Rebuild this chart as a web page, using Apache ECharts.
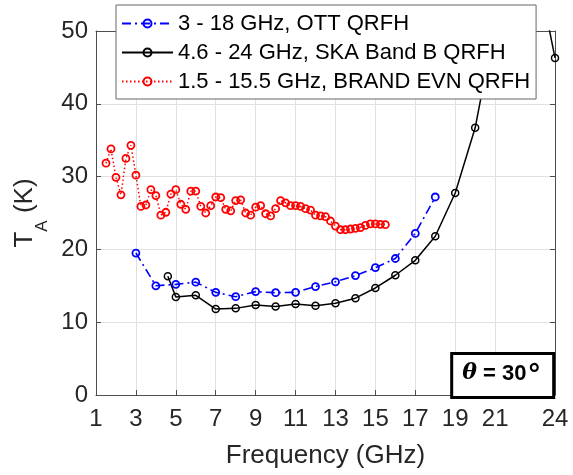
<!DOCTYPE html>
<html><head><meta charset="utf-8">
<script src="https://cdn.jsdelivr.net/npm/echarts@6/dist/echarts.min.js"></script>
<style>html,body{margin:0;padding:0;background:#fff}#c{width:573px;height:475px}</style>
</head><body><div id="c"></div>
<script>
const xTicks = [1, 3, 5, 7, 9, 11, 13, 15, 17, 19, 21, 24];
const yTicksMax = 50;

const ottName = '3 - 18 GHz, OTT QRFH';
const ottFreq = [3, 4, 5, 6, 7, 8, 9, 10, 11, 12, 13, 14, 15, 16, 17, 18];
const ottTa = [19.5, 15.0, 15.2, 15.5, 14.1, 13.5, 14.2, 14.05, 14.1, 14.9, 15.55, 16.4, 17.5, 18.75, 22.2, 27.2];

const skaName = '4.6 - 24 GHz, SKA Band B QRFH';
const skaFreq = [4.6, 5, 6, 7, 8, 9, 10, 11, 12, 13, 14, 15, 16, 17, 18, 19, 20, 21, 22, 23, 24];
const skaTa = [16.3, 13.45, 13.7, 11.8, 11.9, 12.35, 12.15, 12.5, 12.25, 12.6, 13.3, 14.7, 16.45, 18.5, 21.8, 27.75, 36.7, 51, 56, 60, 46.3];

const brandName = '1.5 - 15.5 GHz, BRAND EVN QRFH';
const brandFreq = [1.5, 1.75, 2, 2.25, 2.5, 2.75, 3, 3.25, 3.5, 3.75, 4, 4.25, 4.5, 4.75, 5, 5.25, 5.5, 5.75,
  6, 6.25, 6.5, 6.75, 7, 7.25, 7.5, 7.75, 8, 8.25, 8.5, 8.75, 9, 9.25, 9.5, 9.75, 10, 10.25, 10.5, 10.75,
  11, 11.25, 11.5, 11.75, 12, 12.25, 12.5, 12.75, 13, 13.25, 13.5, 13.75, 14, 14.25, 14.5, 14.75, 15, 15.25, 15.5];
const brandTa = [31.85, 33.8, 29.9, 27.5, 32.5, 34.3, 30.2, 25.9, 26.1, 28.2, 27.4, 24.7, 25.1, 27.6, 28.2, 26.2, 25.5, 28.0,
  28.0, 25.9, 25.0, 26.0, 27.2, 27.1, 25.5, 25.3, 26.7, 26.8, 25.0, 24.7, 25.8, 26.0, 24.9, 24.6, 25.6, 26.7, 26.4, 26.0,
  26.0, 25.9, 25.6, 25.4, 24.7, 24.6, 24.5, 23.9, 23.2, 22.7, 22.7, 22.8, 22.9, 23.0, 23.3, 23.5, 23.5, 23.45, 23.4];

function pairs(xs, ys) { return xs.map((x, i) => [x, ys[i]]); }

const FONT = 'Liberation Sans';
const AX = '#262626';
const chart = echarts.init(document.getElementById('c'), null, {renderer: 'canvas'});
chart.setOption({
  backgroundColor: '#fff',
  animation: false,
  textStyle: {fontFamily: FONT},
  grid: {left: 96, right: 18, top: 31, bottom: 80, outerBoundsMode: 'none', containLabel: false},
  title: {
    text: '{t|θ} = 30{d|°}',
    right: 19, bottom: 81,
    borderColor: '#000', borderWidth: 3,
    padding: [8, 14, 8, 11],
    backgroundColor: '#fff',
    textStyle: {fontFamily: FONT, fontWeight: 'bold', fontSize: 22, color: '#000',
      rich: {
        t: {fontFamily: 'DejaVu Serif', fontStyle: 'italic', fontWeight: 'bold', fontSize: 22, color: '#000'},
        d: {fontFamily: FONT, fontWeight: 'bold', fontSize: 29, color: '#000', padding: [4, 0, 0, 2]}
      }}
  },
  legend: {
    orient: 'vertical', left: 116, top: 5,
    backgroundColor: '#fff', borderColor: '#666', borderWidth: 1,
    padding: [4, 6, 3, 5],
    itemWidth: 51, itemHeight: 10, itemGap: 0,
    textStyle: {fontFamily: FONT, fontSize: 22, color: '#000', lineHeight: 29},
    data: [ottName, skaName, brandName]
  },
  xAxis: [{
    type: 'value', min: 1, max: 24, position: 'bottom',
    name: 'Frequency (GHz)', nameLocation: 'middle', nameGap: 48,
    nameTextStyle: {fontFamily: FONT, fontSize: 26, color: AX},
    axisLine: {show: true, onZero: false, lineStyle: {color: '#4d4d4d', width: 1}},
    axisTick: {show: true, inside: true, length: 5, customValues: xTicks, lineStyle: {color: '#4d4d4d'}},
    axisLabel: {show: true, customValues: xTicks, margin: 12, fontFamily: FONT, fontSize: 24, color: AX},
    splitLine: {show: true, lineStyle: {color: '#e0e0e0', width: 1}}
  }, {
    type: 'value', min: 1, max: 24, position: 'top',
    axisLine: {show: true, onZero: false, lineStyle: {color: '#4d4d4d', width: 1}},
    axisTick: {show: true, inside: true, length: 5, customValues: xTicks, lineStyle: {color: '#4d4d4d'}},
    axisLabel: {show: false, customValues: xTicks},
    splitLine: {show: false}
  }],
  yAxis: [{
    type: 'value', min: 0, max: yTicksMax, interval: 10, position: 'left',
    name: '{a|T}{s|A}{a| (K)}', nameLocation: 'middle', nameGap: 44,
    nameTextStyle: {color: AX, rich: {
      a: {fontFamily: FONT, fontSize: 26, color: AX},
      s: {fontFamily: FONT, fontSize: 17, color: AX, lineHeight: 17, padding: [34, 0, 0, 0]}
    }},
    axisLine: {show: true, onZero: false, lineStyle: {color: '#4d4d4d', width: 1}},
    axisTick: {show: true, inside: true, length: 5, lineStyle: {color: '#4d4d4d'}},
    axisLabel: {show: true, margin: 8, fontFamily: FONT, fontSize: 24, color: AX},
    splitLine: {show: true, lineStyle: {color: '#e0e0e0', width: 1}}
  }, {
    type: 'value', min: 0, max: yTicksMax, interval: 10, position: 'right',
    axisLine: {show: true, onZero: false, lineStyle: {color: '#4d4d4d', width: 1}},
    axisTick: {show: true, inside: true, length: 5, lineStyle: {color: '#4d4d4d'}},
    axisLabel: {show: false},
    splitLine: {show: false}
  }],
  series: [{
    name: ottName, type: 'line', data: pairs(ottFreq, ottTa),
    xAxisIndex: 0, yAxisIndex: 0, clip: true, z: 3,
    symbol: 'circle', symbolSize: 7,
    lineStyle: {color: '#0000ff', width: 1.6, type: [9, 4, 2, 4]},
    itemStyle: {color: 'rgba(0,0,0,0)', borderColor: '#0000ff', borderWidth: 1.8}
  }, {
    name: skaName, type: 'line', data: pairs(skaFreq, skaTa),
    xAxisIndex: 0, yAxisIndex: 0, clip: true, z: 3,
    symbol: 'circle', symbolSize: 7,
    lineStyle: {color: '#000000', width: 1.5, type: 'solid'},
    itemStyle: {color: 'rgba(0,0,0,0)', borderColor: '#000000', borderWidth: 1.5}
  }, {
    name: brandName, type: 'line', data: pairs(brandFreq, brandTa),
    xAxisIndex: 0, yAxisIndex: 0, clip: true, z: 3,
    symbol: 'circle', symbolSize: 7,
    lineStyle: {color: '#ff0000', width: 1.5, type: [1.5, 2.5]},
    itemStyle: {color: 'rgba(0,0,0,0)', borderColor: '#ff0000', borderWidth: 1.8}
  }]
});
</script>
</body></html>
